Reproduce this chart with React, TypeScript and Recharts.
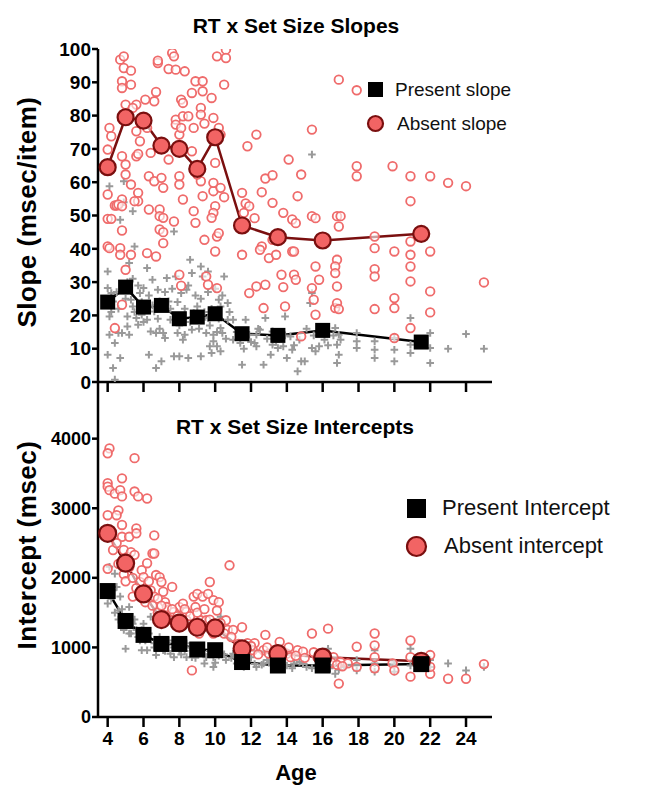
import React from "react";
import { ComposedChart, Line, Scatter, XAxis, YAxis } from "recharts";

// group means (age bins)
const meanAges = [4, 5, 6, 7, 8, 9, 10, 11.5, 13.5, 16, 21.5];
const presentSlope = [24, 28.5, 22.5, 23, 19, 19.5, 20.5, 14.5, 14, 15.5, 12];
const absentSlope = [64.5, 79.5, 78.5, 71, 70, 64, 73.5, 47, 43.5, 42.5, 44.5];
const presentIntercept = [1810, 1380, 1180, 1050, 1050, 970, 960, 790, 740, 740, 760];
const absentIntercept = [2640, 2210, 1770, 1400, 1350, 1290, 1280, 980, 910, 860, 800];

const xTicks = [4, 6, 8, 10, 12, 14, 16, 18, 20, 22, 24];
const slopeTicks = [0, 10, 20, 30, 40, 50, 60, 70, 80, 90, 100];
const interceptTicks = [0, 1000, 2000, 3000, 4000];

// individual subjects: [age, slope]
const absentSlopeSubjects = [
  [4.0, 69.8], [4.1, 76.3], [4.2, 73.8], [4.0, 56.3], [4.0, 49], [4.2, 49], [4.0, 40.7], [4.1, 40.2], [4.4, 16.2], [4.4, 53], [4.5, 53],
  [4.7, 96.8], [4.9, 97.8], [4.9, 94.3], [5.3, 93.5], [4.8, 90.3], [4.8, 88.3], [5.3, 89.3], [5.0, 83.3], [4.8, 67.8], [5.0, 65.3],
  [5.0, 62.3], [5.3, 59.3], [4.8, 54.8], [4.6, 53.3], [4.8, 52.8], [4.8, 45.5], [4.7, 40.2], [4.7, 38.2], [5.3, 38.2], [4.8, 23.2], [5.0, 33.7],
  [5.6, 67.8], [5.7, 68.5], [5.6, 75.3], [5.6, 83.3], [5.4, 82.3], [5.8, 72.3], [5.7, 56.8], [5.7, 54.3], [5.5, 54.3],
  [6.2, 76.3], [6.1, 84.8], [6.6, 84.3], [6.4, 68.8], [6.3, 61.8], [6.3, 51.8], [6.2, 38.7], [6.6, 60.3], [6.7, 87.1], [6.8, 95.8], [6.8, 96.5],
  [7.0, 61.3], [7.1, 58.3], [6.9, 51.8], [6.9, 49.8], [7.1, 49.3], [6.9, 45.8], [7.1, 45], [7.1, 41.7], [6.7, 37.7], [7.4, 66.8], [7.4, 94],
  [7.6, 98.8], [7.7, 97.8], [7.8, 93.8], [8.3, 93.3], [7.7, 48.2], [7.8, 78.8], [7.8, 77.3], [8.0, 74.3], [8.1, 84.8], [8.2, 83.8], [8.2, 79.8],
  [8.1, 76.3], [8.0, 61.8], [8.0, 59.3], [8.2, 54.8], [8.0, 32.2], [8.1, 28.9],
  [8.7, 86.8], [8.5, 79.8], [8.7, 69.3], [8.8, 76.3], [8.9, 90.3], [9.3, 90.3], [9.3, 87.3], [9.2, 82.3], [9.2, 80.3], [9.4, 77.6], [9.2, 64.3],
  [9.2, 60.3], [9.3, 55.8], [8.8, 51.3], [8.9, 47.8], [9.4, 42.7], [9.5, 31.7], [9.6, 29.2], [9.0, 62.3],
  [9.8, 85.3], [9.9, 79.3], [10.2, 76.3], [10.3, 74.3], [10.0, 65.8], [9.9, 57.3], [9.9, 59.8], [10.0, 52.8], [9.9, 50.8], [9.8, 49.3],
  [10.1, 43.7], [10.0, 39.2], [10.1, 28.2], [10.5, 55.5], [10.1, 97.8], [10.6, 99.8], [10.6, 97.3], [10.5, 89.3], [10.3, 58.3], [10.2, 44.7],
  [11.5, 56.8], [11.8, 70.8], [11.7, 53.6], [11.9, 52.8], [12.2, 49.2], [12.3, 74.3], [11.5, 38.2], [11.6, 50.8], [11.9, 26.7], [12.3, 28.7],
  [12.6, 40.7], [12.5, 39.7], [12.8, 29.2], [12.7, 22.2], [12.6, 57], [12.8, 61.1], [13.2, 62.1], [13.2, 53.8], [13.0, 37.2], [13.2, 42.7],
  [13.4, 38.2], [13.7, 32.2], [13.8, 28.5], [13.9, 22.7], [13.8, 50.8], [14.1, 66.8], [14.3, 48.8], [14.3, 39.2], [14.4, 39.2], [14.4, 32.2],
  [14.5, 30.7], [14.6, 55.8], [14.5, 47.7], [14.8, 62.3], [14.8, 13.7],
  [15.4, 75.8], [15.4, 49.8], [15.6, 49.2], [15.6, 34.7], [15.8, 30.7], [15.4, 28.2], [15.5, 24.7], [15.6, 20.2],
  [16.7, 22.2], [16.9, 90.8], [16.8, 49.8], [17.0, 49.8], [16.9, 46.7], [16.8, 36.7], [16.7, 34.7], [16.7, 32.7], [16.8, 28.7], [16.8, 23.7], [16.9, 21.9],
  [17.9, 87.6], [17.9, 64.8], [17.9, 61.8], [18.9, 43.7], [18.9, 40.2], [18.9, 33.9], [18.9, 31.7], [18.9, 21.9],
  [19.9, 64.8], [20.0, 39.2], [20.0, 25.2], [20.0, 22.2], [20.0, 13.2],
  [20.9, 61.8], [20.9, 54.3], [20.9, 42.2], [20.9, 38.2], [20.9, 34.7], [20.9, 30.2], [20.9, 16.2],
  [22.0, 61.8], [22.0, 39.2], [22.0, 27.2], [22.0, 20.9], [23.0, 59.8], [24.0, 58.8], [25.0, 29.9],
];

const presentSlopeSubjects = [
  [4.0, 28.2], [4.0, 33.2], [4.1, 58.8], [4.0, 8.2], [4.4, 11.7], [4.3, 4.2], [4.4, 0.7], [4.2, 26.7], [4.1, 19.7], [4.3, 24.2],
  [4.7, 7.2], [4.7, 48.7], [4.9, 60.3], [4.9, 54], [4.8, 14.7], [5.2, 14.2], [5.1, 16.7], [5.4, 51.3], [5.5, 40.7], [5.2, 35.7],
  [5.2, 28.7], [5.4, 22.7], [5.6, 19.2], [5.3, 24.7], [5.8, 26.7], [5.7, 17.2], [6.3, 8.2], [6.2, 34.2], [6.5, 30.7], [6.7, 4.2],
  [7.0, 6.2], [6.7, 14.7], [6.9, 24.2], [6.6, 21.2], [7.3, 31.2], [7.4, 24.2], [7.7, 45.2], [8.0, 7.7], [7.7, 7.7], [8.3, 14.2],
  [8.1, 19.7], [8.4, 27.7], [8.6, 36.7], [8.5, 7.2], [9.2, 7.7], [9.0, 22.7], [9.3, 31.7], [9.2, 34.7], [9.6, 33.2], [9.6, 19.2],
  [9.9, 14.2], [9.9, 12.2], [10.1, 10.7], [10.2, 24.7], [10.0, 19.7], [10.3, 16.2], [10.5, 31.7], [10.7, 23.7], [10.3, 9.2], [11.0, 18.7],
  [11.5, 5.2], [11.7, 18.7], [11.9, 14.2], [12.3, 14.2], [12.7, 5.2], [12.8, 19.2], [12.3, 10.7], [13.2, 11.2], [13.1, 8.2], [13.8, 10.7],
  [14.0, 7.2], [14.3, 9.7], [13.9, 19.7], [14.6, 3.2], [14.8, 6.2], [15.0, 6.2], [15.4, 68.3], [15.4, 26.7], [15.3, 23.7], [15.6, 9.2],
  [15.4, 10.2], [15.8, 10.7], [16.7, 16.2], [16.9, 14.2], [16.8, 5.7], [16.9, 8.2], [16.8, 11.2], [17.0, 12.7], [17.9, 14.7], [17.9, 12.2],
  [17.9, 10.2], [18.9, 12.2], [18.9, 9.7], [18.9, 7.2], [20.0, 9.7], [20.0, 6.2], [20.0, 13.2], [20.9, 19.2], [20.9, 11.2], [20.9, 8.7],
  [22.0, 14.7], [22.0, 10.2], [22.0, 5.7], [23.0, 10.0], [24.0, 14.4], [25.0, 10.0],
  [4.1, 14.2], [4.6, 14.7], [5.1, 19.7], [5.9, 20.2], [6.2, 18.7], [6.4, 15.2], [7.1, 14.7], [7.2, 13.2], [7.5, 18.7], [7.9, 14.7],
  [8.2, 12.7], [8.7, 15.7], [8.8, 20.7], [9.3, 18.7], [9.5, 14.7], [9.7, 10.7], [9.8, 8.7], [10.4, 14.7], [10.7, 18.7], [6.8, 27.7],
  [6.0, 28.2], [8.1, 26.7], [7.8, 31.7], [8.7, 32.7], [10.3, 22.7], [11.0, 12.7], [11.4, 11.7], [12.2, 11.7], [12.5, 15.7], [13.2, 15.2],
  [13.5, 10.2], [14.2, 13.7], [14.7, 12.7], [15.9, 14.7], [16.1, 12.7],
  [4.2, 21], [4.5, 27], [4.6, 22], [5.0, 25], [5.1, 30], [5.4, 31], [5.5, 21], [5.7, 29], [5.9, 24], [6.0, 18],
  [6.3, 26], [6.5, 23], [6.8, 19], [6.9, 16], [7.2, 27], [7.5, 22], [7.6, 28], [7.9, 24], [8.0, 17], [8.3, 22],
  [8.5, 29], [8.6, 18], [8.9, 26], [9.1, 16], [9.2, 25], [9.4, 21], [9.6, 27], [9.7, 17], [9.8, 22], [10.0, 28],
  [10.1, 15], [10.2, 19], [10.4, 26], [10.6, 13], [10.8, 21], [11.2, 15], [11.6, 10], [12.0, 12], [12.4, 16], [12.9, 13],
  [13.4, 12], [13.9, 14], [14.4, 11], [15.1, 16], [15.5, 14], [16.3, 11], [16.6, 14],
];

// individual subjects: [age, intercept]
const absentInterceptSubjects = [
  [4.1, 3860], [4.0, 3790], [4.0, 3360], [4.0, 3310], [4.1, 3260], [4.0, 2900], [4.0, 2130], [4.4, 3210], [4.6, 2970], [4.5, 2900],
  [4.7, 3260], [4.8, 3430], [4.8, 3170], [4.8, 2760], [4.8, 2590], [4.9, 2400], [5.1, 2300], [5.2, 2590], [5.3, 2370], [5.5, 3720],
  [5.5, 3240], [5.7, 3170], [6.2, 3140], [5.6, 2710], [5.6, 2640], [5.5, 2330], [5.9, 2110], [5.8, 1940], [6.2, 2210], [6.5, 2350],
  [6.6, 2350], [6.6, 2610], [6.7, 2040], [6.9, 2010], [7.0, 1940], [7.1, 1800], [7.2, 1650], [7.6, 1870], [8.0, 1580], [8.2, 1630],
  [8.4, 1510], [8.7, 670], [8.8, 1730], [9.0, 1770], [9.3, 1730], [8.9, 1580], [9.6, 1770], [9.7, 1940], [9.9, 1680], [10.2, 1650],
  [10.1, 1530], [10.6, 1390], [10.8, 2180], [10.7, 1250], [11.5, 1290], [11.8, 1060], [12.2, 1060], [12.8, 1180], [12.7, 960], [13.0, 910],
  [13.6, 1080], [14.0, 910], [14.6, 960], [14.9, 940], [15.4, 1200], [15.8, 910], [16.3, 1270], [16.9, 480], [16.6, 860], [17.0, 790],
  [17.4, 770], [17.9, 1010], [17.9, 720], [18.9, 1200], [18.9, 1030], [18.9, 860], [18.9, 700], [19.9, 770], [20.0, 670], [20.9, 1100],
  [20.9, 580], [20.9, 860], [22.0, 890], [22.0, 620], [22.0, 720], [23.0, 550], [24.0, 550], [25.0, 760],
  [5.4, 1730], [6.0, 2010], [6.4, 1820], [6.6, 1730], [6.8, 1700], [7.3, 1580], [7.7, 1510], [8.4, 1390], [9.2, 1390], [9.5, 1390],
  [11.0, 1250], [12.1, 960], [13.3, 960], [14.2, 860], [15.7, 860],
  [4.3, 2400], [4.5, 2500], [4.6, 2200], [4.9, 2050], [5.0, 1950], [5.2, 2150], [5.4, 2000], [5.6, 1850], [5.8, 1750], [6.1, 1650],
  [6.3, 1950], [6.5, 1600], [6.8, 1500], [7.0, 1600], [7.2, 1450], [7.4, 1400], [7.6, 1550], [7.9, 1450], [8.1, 1350], [8.3, 1550],
  [8.6, 1450], [8.8, 1300], [9.0, 1500], [9.1, 1200], [9.4, 1550], [9.7, 1400], [9.9, 1200], [10.3, 1350], [10.5, 1200], [10.9, 1150],
  [11.3, 1050], [11.7, 1000], [12.0, 1020], [12.4, 900], [12.9, 1000], [13.3, 880], [13.8, 940], [14.1, 1000], [14.5, 880], [15.0, 850],
  [15.5, 930], [16.0, 800], [16.5, 780], [16.8, 750], [17.1, 730],
];

const presentInterceptSubjects = [
  [4.0, 1630], [4.1, 2160], [4.4, 2060], [4.3, 1820], [4.7, 1730], [4.9, 1250], [5.0, 980], [5.2, 1580], [5.2, 1200], [5.4, 1340],
  [5.8, 1100], [5.9, 960], [6.2, 960], [6.4, 1440], [6.6, 1060], [6.7, 890], [7.1, 960], [7.3, 1060], [7.7, 860], [8.0, 960],
  [8.4, 1060], [8.7, 860], [9.2, 1010], [9.4, 770], [9.9, 720], [10.1, 960], [10.3, 1440], [11.0, 910], [11.6, 720], [12.0, 860],
  [12.7, 770], [13.3, 820], [13.8, 720], [14.4, 770], [15.1, 720], [15.7, 820], [16.3, 980], [16.7, 620], [17.0, 720], [17.9, 820],
  [17.9, 670], [18.9, 960], [18.9, 770], [18.9, 650], [20.0, 770], [20.0, 650], [20.9, 980], [20.9, 740], [22.0, 820], [22.0, 720],
  [23.0, 770], [24.0, 670], [25.0, 720],
  [4.0, 1820], [4.5, 1870], [4.6, 1530], [5.1, 1390], [5.6, 1250], [6.0, 1340], [6.9, 1150], [7.5, 910], [7.9, 1010], [8.4, 860],
  [9.0, 910], [9.5, 860], [9.9, 860], [10.6, 820], [11.2, 770], [12.3, 720], [12.9, 820], [13.6, 820], [14.7, 790],
  [4.2, 1700], [4.4, 1500], [4.6, 1400], [4.8, 1550], [5.0, 1300], [5.3, 1200], [5.5, 1400], [5.7, 1150], [5.9, 1250], [6.1, 1100],
  [6.3, 1200], [6.6, 1000], [6.9, 1000], [7.2, 950], [7.4, 1100], [7.7, 1000], [8.1, 900], [8.3, 950], [8.6, 1000], [8.9, 850],
  [9.1, 950], [9.4, 900], [9.7, 950], [10.0, 780], [10.2, 880], [10.5, 900], [10.9, 850], [11.3, 780], [11.8, 800], [12.2, 760],
  [12.6, 750], [13.0, 780], [13.5, 700], [14.0, 740], [14.3, 700], [14.9, 760], [15.4, 700], [15.9, 740], [16.4, 700], [16.9, 680],
  [17.2, 740],
];

const FONT = '"Liberation Sans", Arial, Helvetica, sans-serif';
const ABSENT_FILL = "#f26464";
const ABSENT_DARK = "#7a0f0f";
const SUBJ_RED = "#ef6b6b";
const SUBJ_GREY = "#999999";

const toPts = (pts: number[][]) => pts.map(([x, y]) => ({ x, y }));
const toMeans = (vals: number[]) => meanAges.map((x, i) => ({ x, y: vals[i] }));

const OpenCircle = (p: any) => (
  <circle cx={p.cx} cy={p.cy} r={4.3} fill="#fff" fillOpacity={0.6} stroke={SUBJ_RED} strokeWidth={1.8} />
);

const Plus = (p: any) => (
  <path
    d={`M${p.cx - 3.8},${p.cy}H${p.cx + 3.8}M${p.cx},${p.cy - 3.8}V${p.cy + 3.8}`}
    stroke={SUBJ_GREY}
    strokeWidth={2}
  />
);

const squareDot = (size: number) => (p: any) => (
  <rect key={`sq-${p.index}`} x={p.cx - size / 2} y={p.cy - size / 2} width={size} height={size} fill="#000" />
);

const circleDot = (r: number) => (p: any) => (
  <circle key={`c-${p.index}`} cx={p.cx} cy={p.cy} r={r} fill={ABSENT_FILL} stroke={ABSENT_DARK} strokeWidth={2.2} />
);

const axisStroke = { stroke: "#000", strokeWidth: 2.5 };

type PanelProps = {
  top: number;
  height: number;
  marginTop: number;
  xAxisHeight: number;
  showXLabels: boolean;
  yDomain: [number, number];
  yTicks: number[];
  yFont: number;
  present: { x: number; y: number }[];
  absent: { x: number; y: number }[];
  presentSubj: { x: number; y: number }[];
  absentSubj: { x: number; y: number }[];
  squareSize: number;
  circleR: number;
};

const Panel = (props: PanelProps) => (
  <div style={{ position: "absolute", left: 0, top: props.top }}>
    <ComposedChart
      width={664}
      height={props.height}
      margin={{ top: props.marginTop, right: 172, bottom: 0, left: 0 }}
    >
      <XAxis
        dataKey="x"
        type="number"
        domain={[3.46, 25.45]}
        allowDataOverflow
        ticks={xTicks}
        interval={0}
        height={props.xAxisHeight}
        axisLine={axisStroke}
        tickLine={axisStroke}
        tickSize={10}
        tickMargin={5}
        tickFormatter={(v: number) => (props.showXLabels ? String(v) : "")}
        tick={{ fill: "#000", fontSize: 19, fontWeight: 700, fontFamily: FONT }}
      />
      <YAxis
        dataKey="y"
        type="number"
        domain={props.yDomain}
        allowDataOverflow
        ticks={props.yTicks}
        interval={0}
        width={98}
        axisLine={axisStroke}
        tickLine={axisStroke}
        tickSize={6}
        tickMargin={1}
        tick={{ fill: "#000", fontSize: props.yFont, fontWeight: 700, fontFamily: FONT }}
      />
      <Scatter data={props.presentSubj} dataKey="y" shape={Plus} isAnimationActive={false} />
      <Scatter data={props.absentSubj} dataKey="y" shape={OpenCircle} isAnimationActive={false} />
      <Line
        data={props.absent}
        dataKey="y"
        type="linear"
        stroke={ABSENT_DARK}
        strokeWidth={2.5}
        dot={circleDot(props.circleR)}
        activeDot={false}
        isAnimationActive={false}
      />
      <Line
        data={props.present}
        dataKey="y"
        type="linear"
        stroke="#000"
        strokeWidth={2.5}
        dot={squareDot(props.squareSize)}
        activeDot={false}
        isAnimationActive={false}
      />
    </ComposedChart>
  </div>
);

type LegendProps = {
  left: number;
  textLeft: number;
  rows: number[];
  fontSize: number;
  marker: number;
  labels: [string, string];
};

const LegendBox = ({ left, textLeft, rows, fontSize, marker, labels }: LegendProps) => (
  <>
    {labels.map((label, i) => (
      <React.Fragment key={label}>
        <svg
          width={marker + 4}
          height={marker + 4}
          style={{ position: "absolute", left: left - marker / 2 - 2, top: rows[i] - marker / 2 - 2 }}
        >
          {i === 0 ? (
            <rect x={2} y={2} width={marker} height={marker} fill="#000" />
          ) : (
            <circle cx={marker / 2 + 2} cy={marker / 2 + 2} r={marker / 2} fill={ABSENT_FILL} stroke={ABSENT_DARK} strokeWidth={2.2} />
          )}
        </svg>
        <div
          style={{
            position: "absolute",
            left: textLeft + (i === 1 ? 2 : 0),
            top: rows[i] - fontSize / 2,
            fontSize,
            lineHeight: `${fontSize}px`,
            fontFamily: FONT,
            color: "#111",
            whiteSpace: "nowrap",
          }}
        >
          {label}
        </div>
      </React.Fragment>
    ))}
  </>
);

const textBase: React.CSSProperties = {
  position: "absolute",
  fontFamily: FONT,
  fontWeight: 700,
  color: "#000",
  whiteSpace: "nowrap",
};

export default function App() {
  return (
    <div style={{ position: "absolute", left: 0, top: 0, width: 664, height: 786, background: "#fff", overflow: "hidden" }}>
      <Panel
        top={0}
        height={400}
        marginTop={49}
        xAxisHeight={18}
        showXLabels={false}
        yDomain={[0, 100]}
        yTicks={slopeTicks}
        yFont={19}
        present={toMeans(presentSlope)}
        absent={toMeans(absentSlope)}
        presentSubj={toPts(presentSlopeSubjects)}
        absentSubj={toPts(absentSlopeSubjects)}
        squareSize={15}
        circleR={8}
      />
      <Panel
        top={383}
        height={403}
        marginTop={0}
        xAxisHeight={69}
        showXLabels
        yDomain={[0, 4800]}
        yTicks={interceptTicks}
        yFont={18}
        present={toMeans(presentIntercept)}
        absent={toMeans(absentIntercept)}
        presentSubj={toPts(presentInterceptSubjects)}
        absentSubj={toPts(absentInterceptSubjects)}
        squareSize={16}
        circleR={8.5}
      />

      <div style={{ ...textBase, left: 0, width: 592, top: 15, fontSize: 21, lineHeight: "21px", textAlign: "center" }}>
        RT x Set Size Slopes
      </div>
      <div style={{ ...textBase, left: 0, width: 590, top: 416, fontSize: 21, lineHeight: "21px", textAlign: "center" }}>
        RT x Set Size Intercepts
      </div>
      <div style={{ ...textBase, left: 0, width: 592, top: 762, fontSize: 22, lineHeight: "22px", textAlign: "center" }}>
        Age
      </div>
      <div
        style={{
          ...textBase,
          left: 27 - 150,
          top: 212 - 13,
          width: 300,
          fontSize: 26,
          lineHeight: "26px",
          letterSpacing: 0.5,
          textAlign: "center",
          transform: "rotate(-90deg)",
        }}
      >
        Slope (msec/item)
      </div>
      <div
        style={{
          ...textBase,
          left: 27 - 150,
          top: 545 - 13,
          width: 300,
          fontSize: 26,
          lineHeight: "26px",
          letterSpacing: 0.5,
          textAlign: "center",
          transform: "rotate(-90deg)",
        }}
      >
        Intercept (msec)
      </div>

      <LegendBox left={375} textLeft={395} rows={[89, 123]} fontSize={19} marker={15} labels={["Present slope", "Absent slope"]} />
      <LegendBox left={416} textLeft={442} rows={[508, 546]} fontSize={22} marker={19} labels={["Present Intercept", "Absent intercept"]} />
    </div>
  );
}
